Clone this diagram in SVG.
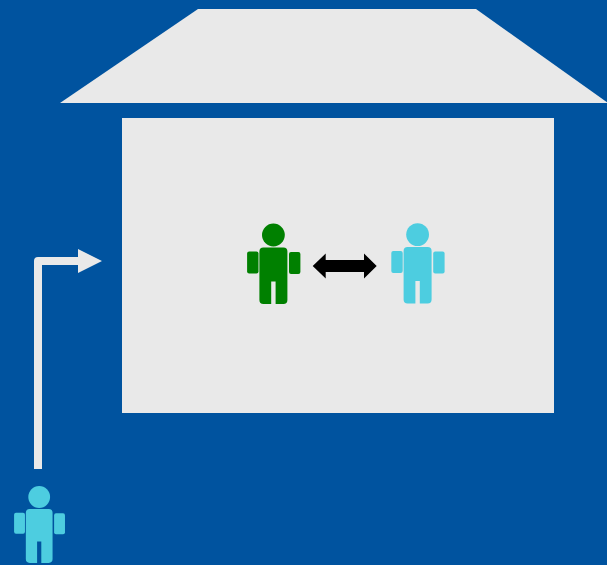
<svg xmlns="http://www.w3.org/2000/svg" width="607" height="565" viewBox="0 0 607 565">
<style>
.g{fill:#e9e9e9}
.green{fill:#008000}
.cyan{fill:#4dcde0}
</style>
<defs>
<g id="person">
<circle cx="0" cy="0" r="11.4"/>
<path d="M-14 16.5a4 4 0 0 1 4-4H10a4 4 0 0 1 4 4V65a4 4 0 0 1-4 4H2.2V46.5H-2.2V69H-10a4 4 0 0 1-4-4Z"/>
<rect x="-26.3" y="16.5" width="11.4" height="22" rx="2"/>
<rect x="15.6" y="17" width="11.4" height="22" rx="2"/>
</g>
</defs>
<rect width="607" height="565" fill="#00539f"/>
<g id="roof"><polygon class="g" points="198,9 476,9 608,103 60,103"/></g>
<g id="room"><rect class="g" x="122" y="118" width="432" height="295"/></g>
<g id="person-green" class="green"><use href="#person" x="273.4" y="235"/></g>
<g id="person-cyan" class="cyan"><use href="#person" x="417.6" y="234.6"/></g>
<g id="person-outside" class="cyan"><use href="#person" transform="translate(39.2 497) scale(0.955)"/></g>
<g id="connectors">
<polygon points="312.7,266 325.7,253.5 325.7,260 364,260 364,253.5 376.7,266 364,278.5 364,272 325.7,272 325.7,278.5" fill="#000"/>
<path d="M34 469V261a4 4 0 0 1 4-4H78V249L102 261L78 273V265H42V469Z" class="g"/>
</g>
</svg>
